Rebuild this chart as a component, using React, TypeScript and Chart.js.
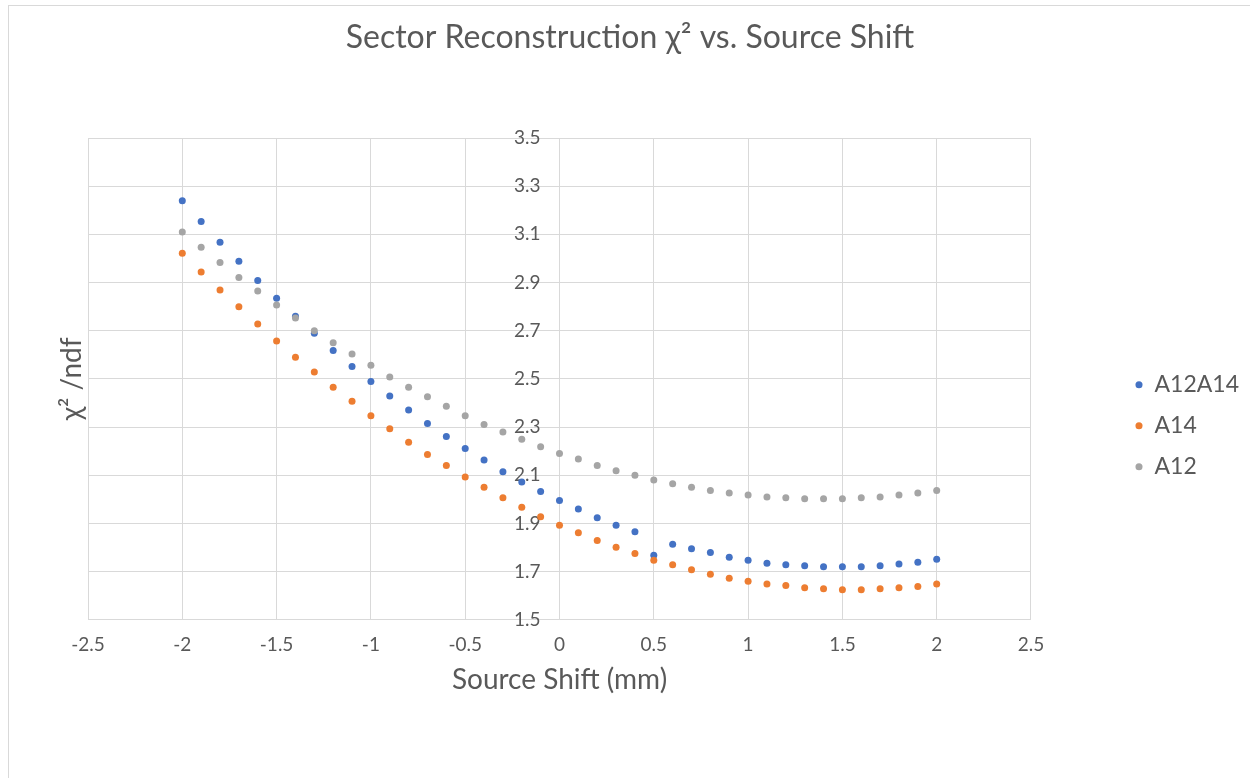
import React, { useEffect, useRef } from "react";
import { Chart, registerables } from "chart.js";

Chart.register(...registerables);

const xValues = [
  -2, -1.9, -1.8, -1.7, -1.6, -1.5, -1.4, -1.3, -1.2, -1.1, -1, -0.9, -0.8, -0.7, -0.6, -0.5, -0.4, -0.3, -0.2, -0.1,
  0, 0.1, 0.2, 0.3, 0.4, 0.5, 0.6, 0.7, 0.8, 0.9, 1, 1.1, 1.2, 1.3, 1.4, 1.5, 1.6, 1.7, 1.8, 1.9, 2,
];

const a12a14 = [
  3.239, 3.153, 3.067, 2.988, 2.908, 2.835, 2.76, 2.689, 2.618, 2.551, 2.489, 2.429, 2.371, 2.315, 2.261, 2.211, 2.163,
  2.115, 2.072, 2.033, 1.995, 1.96, 1.924, 1.893, 1.865, 1.768, 1.814, 1.795, 1.779, 1.76, 1.747, 1.735, 1.728, 1.724,
  1.72, 1.72, 1.72, 1.724, 1.732, 1.739, 1.751,
];

const a14 = [
  3.022, 2.944, 2.869, 2.799, 2.728, 2.657, 2.59, 2.529, 2.465, 2.407, 2.347, 2.293, 2.237, 2.186, 2.14, 2.093, 2.05,
  2.007, 1.967, 1.928, 1.892, 1.861, 1.829, 1.801, 1.775, 1.747, 1.728, 1.708, 1.689, 1.672, 1.66, 1.649, 1.642, 1.633,
  1.629, 1.625, 1.625, 1.629, 1.633, 1.638, 1.649,
];

const a12 = [
  3.11, 3.046, 2.983, 2.921, 2.865, 2.807, 2.753, 2.7, 2.65, 2.603, 2.557, 2.508, 2.465, 2.426, 2.386, 2.347, 2.311,
  2.28, 2.249, 2.218, 2.19, 2.167, 2.14, 2.119, 2.1, 2.08, 2.065, 2.05, 2.037, 2.026, 2.018, 2.01, 2.007, 2.003, 2.003,
  2.003, 2.007, 2.01, 2.018, 2.026, 2.037,
];

const seriesNames = ["A12A14", "A14", "A12"];

const xTickValues = [-2.5, -2, -1.5, -1, -0.5, 0, 0.5, 1, 1.5, 2, 2.5];
const xTickLabels = ["-2.5", "-2", "-1.5", "-1", "-0.5", "0", "0.5", "1", "1.5", "2", "2.5"];
const yTickValues = [1.5, 1.7, 1.9, 2.1, 2.3, 2.5, 2.7, 2.9, 3.1, 3.3, 3.5];
const yTickLabels = ["1.5", "1.7", "1.9", "2.1", "2.3", "2.5", "2.7", "2.9", "3.1", "3.3", "3.5"];

const chartTitle = "Sector Reconstruction \u03c7\u00b2 vs. Source Shift";
const xTitle = "Source Shift (mm)";
const yTitle = "\u03c7\u00b2 /ndf";

const FONT = "Lato, 'Noto Sans', sans-serif";
const TEXT = "#595959";
const GRID = "#d9d9d9";

function toPoints(ys: number[]) {
  return xValues.map((x, i) => ({ x, y: ys[i] }));
}

export default function App() {
  const ref = useRef<HTMLCanvasElement | null>(null);

  useEffect(() => {
    if (!ref.current) return;
    const chart = new Chart(ref.current, {
      type: "scatter",
      data: {
        datasets: [
          {
            label: seriesNames[0],
            data: toPoints(a12a14),
            backgroundColor: "#4472C4",
            borderColor: "#4472C4",
            borderWidth: 0,
            pointRadius: 3.5,
            pointHoverRadius: 3.5,
            yAxisID: "y",
            xAxisID: "x",
            order: 2,
          },
          {
            label: seriesNames[1],
            data: toPoints(a14),
            backgroundColor: "#ED7D31",
            borderColor: "#ED7D31",
            borderWidth: 0,
            pointRadius: 3.5,
            pointHoverRadius: 3.5,
            yAxisID: "y",
            xAxisID: "x",
            order: 1,
          },
          {
            label: seriesNames[2],
            data: toPoints(a12),
            backgroundColor: "#A5A5A5",
            borderColor: "#A5A5A5",
            borderWidth: 0,
            pointRadius: 3.5,
            pointHoverRadius: 3.5,
            yAxisID: "y",
            xAxisID: "x",
            order: 0,
          },
        ],
      },
      options: {
        animation: false,
        responsive: false,
        maintainAspectRatio: false,
        devicePixelRatio: 1,
        events: [],
        layout: { padding: { left: 11, right: 1, top: 0, bottom: 76.8 } },
        plugins: {
          tooltip: { enabled: false },
          title: {
            display: true,
            text: chartTitle,
            color: TEXT,
            font: { family: FONT, size: 32, weight: "normal" },
            padding: { top: 18.8, bottom: 80.8 },
          },
          legend: {
            display: true,
            position: "right",
            align: "center",
            title: { display: true, text: " ", padding: 68, font: { size: 12 } },
            labels: {
              usePointStyle: true,
              pointStyle: "circle",
              boxWidth: 8,
              boxHeight: 5,
              padding: 18,
              color: TEXT,
              font: { family: FONT, size: 23 },
              sort: (a: any, b: any) => a.datasetIndex - b.datasetIndex,
            },
          },
        },
        scales: {
          x: {
            type: "linear",
            position: "bottom",
            min: -2.5,
            max: 2.5,
            afterBuildTicks: (s: any) => {
              s.ticks = xTickValues.map((v) => ({ value: v }));
            },
            ticks: {
              color: TEXT,
              font: { family: FONT, size: 19 },
              padding: 13.6,
              autoSkip: false,
              maxRotation: 0,
              callback: (_v: any, i: number) => xTickLabels[i],
            },
            grid: { color: GRID, lineWidth: 1, drawTicks: false },
            border: { display: true, color: GRID, width: 1 },
            title: {
              display: true,
              text: xTitle,
              color: TEXT,
              font: { family: FONT, size: 28 },
              padding: { top: -6.2, bottom: 4 },
            },
          },
          y: {
            type: "linear",
            position: { x: -0.101 } as any,
            min: 1.5,
            max: 3.5,
            afterBuildTicks: (s: any) => {
              s.ticks = yTickValues.map((v) => ({ value: v }));
            },
            ticks: {
              color: TEXT,
              font: { family: FONT, size: 19 },
              padding: 0,
              autoSkip: false,
              callback: (_v: any, i: number) => yTickLabels[i],
            },
            grid: { color: GRID, lineWidth: 1, drawTicks: false },
            border: { display: false },
          },
          yl: {
            type: "linear",
            position: "left",
            min: 0,
            max: 1,
            grid: { display: false },
            border: { display: false },
            ticks: { display: false },
            title: {
              display: true,
              text: yTitle,
              color: TEXT,
              font: { family: FONT, size: 28 },
              padding: { top: 44.2, bottom: 0 },
            },
            afterFit: (s: any) => {
              s.width = 77;
            },
          },
          yr: {
            type: "linear",
            position: "right",
            min: 0,
            max: 1,
            grid: { display: false },
            border: { display: false },
            ticks: { display: false },
            afterFit: (s: any) => {
              s.width = 86;
            },
          },
        },
      } as any,
    });
    return () => chart.destroy();
  }, []);

  return (
    <div
      style={{
        position: "absolute",
        left: 0,
        top: 0,
        width: 1250,
        height: 778,
        overflow: "hidden",
        background: "#ffffff",
      }}
    >
      <div
        style={{
          position: "absolute",
          left: 8,
          top: 5,
          width: 1400,
          height: 1000,
          border: "1px solid #d9d9d9",
        }}
      />
      <canvas
        ref={ref}
        width={1250}
        height={778}
        style={{ position: "absolute", left: 0, top: 0, width: 1250, height: 778 }}
      />
    </div>
  );
}
